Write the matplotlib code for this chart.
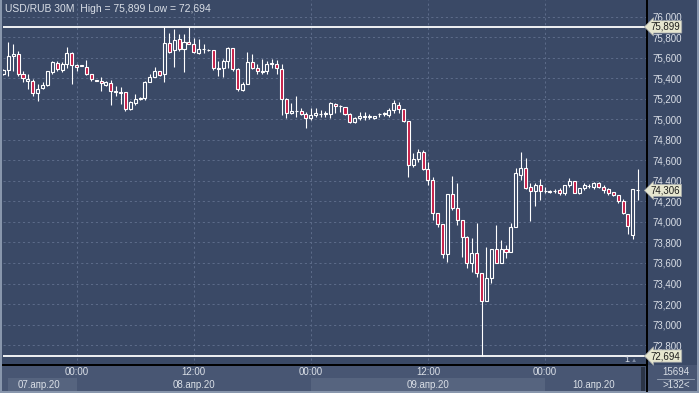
import matplotlib
matplotlib.use('Agg')
import matplotlib.pyplot as plt
import matplotlib.transforms as mtransforms
from matplotlib.patches import Rectangle
from matplotlib.lines import Line2D
from matplotlib.ticker import FuncFormatter
import numpy as np

plt.rcParams['font.family'] = ['Liberation Sans', 'DejaVu Sans']

# ---------------- data (USD/RUB, 30-minute candles) ----------------
opens = [75.44, 75.48, 75.615, 75.632, 75.44, 75.375, 75.375, 75.255, 75.305, 75.335,
         75.455, 75.55, 75.48, 75.535, 75.64, 75.526, 75.525, 75.513, 75.445, 75.381,
         75.368, 75.336, 75.355, 75.278, 75.255, 75.261, 75.10, 75.161, 75.197, 75.207,
         75.365, 75.413, 75.471, 75.439, 75.745, 75.671, 75.778, 75.681, 75.755, 75.736,
         75.649, 75.681, 75.674, 75.671, 75.494, 75.497, 75.568, 75.69, 75.487, 75.287,
         75.342, 75.561, 75.503, 75.455, 75.471, 75.542, 75.542, 75.487, 75.197, 75.057,
         75.075, 75.083, 75.05, 75.008, 75.04, 75.05, 75.052, 75.05, 75.148, 75.13,
         75.122, 75.05, 74.976, 75.008, 75.024, 75.026, 75.008, 75.05, 75.052, 75.041,
         75.09, 75.138, 75.096, 74.982, 74.554, 74.609, 74.684, 74.512, 74.408, 74.09,
         73.976, 73.687, 74.268, 74.132, 74.018, 73.85, 73.596, 73.70, 73.505, 73.233,
         73.45, 73.733, 73.603, 73.733, 73.71, 73.947, 74.457, 74.522, 74.337, 74.304,
         74.36, 74.304, 74.30, 74.30, 74.31, 74.285, 74.36, 74.401, 74.285, 74.327,
         74.35, 74.343, 74.376, 74.343, 74.317, 74.295, 74.262, 74.207, 74.077, 73.872,
         74.31]
highs = [75.49, 75.755, 75.735, 75.665, 75.47, 75.44, 75.39, 75.34, 75.36, 75.47,
         75.57, 75.57, 75.56, 75.70, 75.65, 75.536, 75.53, 75.578, 75.445, 75.385,
         75.413, 75.374, 75.381, 75.326, 75.31, 75.261, 75.18, 75.25, 75.213, 75.368,
         75.44, 75.51, 75.471, 75.899, 75.842, 75.874, 75.826, 75.826, 75.899, 75.794,
         75.778, 75.729, 75.68, 75.671, 75.568, 75.584, 75.703, 75.697, 75.503, 75.358,
         75.658, 75.632, 75.536, 75.584, 75.568, 75.584, 75.574, 75.536, 75.203, 75.155,
         75.226, 75.106, 75.073, 75.106, 75.106, 75.09, 75.075, 75.171, 75.161, 75.135,
         75.122, 75.063, 75.025, 75.073, 75.073, 75.05, 75.035, 75.063, 75.073, 75.106,
         75.187, 75.171, 75.096, 74.982, 74.668, 74.707, 74.70, 74.586, 74.44, 74.09,
         73.976, 74.268, 74.447, 74.375, 74.018, 73.863, 73.84, 73.986, 73.505, 73.752,
         73.733, 73.97, 73.823, 73.775, 73.992, 74.522, 74.684, 74.619, 74.376, 74.376,
         74.414, 74.343, 74.31, 74.317, 74.327, 74.36, 74.424, 74.401, 74.33, 74.382,
         74.37, 74.385, 74.392, 74.36, 74.327, 74.295, 74.262, 74.22, 74.077, 74.317,
         74.512]
lows = [75.43, 75.42, 75.47, 75.42, 75.36, 75.295, 75.23, 75.18, 75.295, 75.325,
        75.44, 75.465, 75.455, 75.50, 75.34, 75.465, 75.515, 75.43, 75.374, 75.368,
        75.27, 75.326, 75.14, 75.23, 75.15, 75.084, 75.09, 75.142, 75.19, 75.19,
        75.358, 75.407, 75.423, 75.358, 75.649, 75.51, 75.665, 75.455, 75.729, 75.649,
        75.639, 75.649, 75.665, 75.478, 75.423, 75.413, 75.503, 75.471, 75.278, 75.271,
        75.342, 75.487, 75.439, 75.439, 75.439, 75.503, 75.439, 75.041, 75.008, 75.05,
        75.018, 75.04, 74.91, 74.992, 75.025, 75.018, 75.025, 75.008, 75.057, 75.073,
        75.041, 74.96, 74.96, 74.992, 74.992, 75.0, 75.0, 75.025, 75.03, 75.025,
        75.063, 75.057, 74.976, 74.44, 74.531, 74.586, 74.505, 74.36, 74.018, 73.953,
        73.645, 73.613, 74.116, 73.97, 73.661, 73.548, 73.515, 73.466, 72.694, 73.233,
        73.402, 73.603, 73.596, 73.645, 73.71, 73.947, 74.408, 74.317, 74.012, 74.155,
        74.213, 74.285, 74.285, 74.278, 74.262, 74.262, 74.343, 74.278, 74.27, 74.31,
        74.33, 74.32, 74.327, 74.278, 74.262, 74.252, 74.181, 74.077, 73.882, 73.83,
        74.213]
closes = [75.48, 75.615, 75.632, 75.44, 75.40, 75.39, 75.255, 75.295, 75.335, 75.465,
          75.56, 75.487, 75.54, 75.64, 75.53, 75.513, 75.52, 75.44, 75.39, 75.372,
          75.349, 75.358, 75.278, 75.261, 75.268, 75.10, 75.165, 75.197, 75.207, 75.365,
          75.413, 75.471, 75.432, 75.745, 75.658, 75.768, 75.681, 75.755, 75.736, 75.658,
          75.681, 75.684, 75.671, 75.497, 75.49, 75.568, 75.697, 75.487, 75.294, 75.342,
          75.561, 75.503, 75.471, 75.471, 75.536, 75.545, 75.503, 75.197, 75.057, 75.08,
          75.08, 75.05, 75.008, 75.04, 75.063, 75.055, 75.056, 75.154, 75.128, 75.128,
          75.05, 74.976, 75.008, 75.031, 75.028, 75.03, 75.031, 75.055, 75.056, 75.09,
          75.154, 75.096, 74.982, 74.554, 74.609, 74.684, 74.512, 74.408, 74.083, 73.976,
          73.687, 74.268, 74.132, 74.018, 73.85, 73.596, 73.70, 73.505, 73.233, 73.45,
          73.733, 73.603, 73.733, 73.71, 73.947, 74.473, 74.522, 74.327, 74.304, 74.36,
          74.304, 74.30, 74.295, 74.304, 74.278, 74.36, 74.401, 74.285, 74.327, 74.36,
          74.352, 74.376, 74.343, 74.31, 74.285, 74.262, 74.207, 74.083, 73.96, 74.317,
          74.306]

time_tick_idx = [15, 39, 63, 87, 111]
time_tick_labels = ['00:00', '12:00', '00:00', '12:00', '00:00']
day_bounds = [-0.6, 15, 63, 111, 131.9]
day_labels = ['07.апр.20', '08.апр.20', '09.апр.20', '10.апр.20']
y_ticks = [72.8, 73.0, 73.2, 73.4, 73.6, 73.8, 74.0, 74.2, 74.4, 74.6, 74.8,
           75.0, 75.2, 75.4, 75.6, 75.8, 76.0]
title_text = 'USD/RUB 30M  High = 75,899 Low = 72,694'
high_val = 75.899
low_val = 72.694
last_val = 74.306
bars_count_text = '15694'
visible_text = '>132<'

# ---------------- style ----------------
BG = '#3a4966'
STRIP = '#485673'
BAND = '#56647f'
FRAME = '#8896ac'
GRID = '#5d6c8a'
TXT = '#d9dee6'
RED = '#c41a44'
TAG = '#e6e6cf'

W, H = 699, 393
fig = plt.figure(figsize=(W / 100, H / 100), dpi=100)
fig.patch.set_facecolor(FRAME)


def fr(x0, y0, x1, y1):
    return [x0 / W, 1 - y1 / H, (x1 - x0) / W, (y1 - y0) / H]


def comma(v):
    return f'{v:.3f}'.replace('.', ',')


# dark panels (plot + right price scale) and bottom strip
fig.add_artist(Rectangle((2 / W, 1 - 365 / H), 695 / W, 365 / H,
                         transform=fig.transFigure, fc=BG, ec='none', zorder=0))
fig.add_artist(Rectangle((2 / W, 1 - 391 / H), 695 / W, 26 / H,
                         transform=fig.transFigure, fc=STRIP, ec='none', zorder=0))

ax = fig.add_axes(fr(3, 0, 647, 365))
ax.set_facecolor(BG)
ax.set_xlim(-0.1, 131.9)
ax.set_ylim(72.6066, 76.1607)

idx = np.arange(len(opens))
o = np.array(opens)
h = np.array(highs)
l = np.array(lows)
c = np.array(closes)
up = c >= o
bottoms = np.minimum(o, c)
heights = np.maximum(np.abs(c - o), 0.004)

ax.vlines(idx, l, h, color='white', lw=0.8, zorder=2)
ax.bar(idx, heights, bottom=bottoms, width=0.62,
       color=[BG if u else RED for u in up], edgecolor='white',
       linewidth=0.8, zorder=3)

ax.axhline(high_val, color='white', lw=1.3, zorder=4)
ax.axhline(low_val, color='white', lw=1.3, zorder=4)

ax.set_yticks(y_ticks)
ax.yaxis.set_major_formatter(FuncFormatter(lambda v, p: comma(v)))
ax.yaxis.tick_right()
ax.tick_params(axis='y', length=0, pad=4, labelsize=7, labelcolor=TXT)
ax.set_xticks(time_tick_idx)
ax.tick_params(axis='x', length=0, labelbottom=False)
ax.grid(True, color=GRID, linestyle=(0, (2.2, 2.8)), lw=0.7)
ax.set_axisbelow(True)
for s in ['top', 'left']:
    ax.spines[s].set_visible(False)
ax.spines['right'].set_color('black')
ax.spines['right'].set_linewidth(1.4)
ax.spines['bottom'].set_color('black')
ax.spines['bottom'].set_linewidth(1.4)

ax.text(2 / 644, 1 - 9 / 365, title_text, transform=ax.transAxes,
        ha='left', va='center', fontsize=7.5, color=TXT, zorder=6)

blend = mtransforms.blended_transform_factory(ax.transAxes, ax.transData)
for v in [high_val, last_val, low_val]:
    ax.text(1.006, v, comma(v), transform=blend, ha='left', va='center',
            fontsize=7, color='#1c1c1c', clip_on=False, zorder=10,
            bbox=dict(boxstyle='larrow,pad=0.12', fc=TAG, ec='#a0a4a8', lw=0.5))

ax.text((627 - 3) / 644, 5 / 365, '1', transform=ax.transAxes, ha='center',
        va='center', fontsize=6.5, color=TXT, zorder=6)
ax.text((634 - 3) / 644, 4 / 365, '▲', transform=ax.transAxes, ha='center',
        va='center', fontsize=4.5, color='#7f8ca4', zorder=6)

# bottom time / date strip
sx = fig.add_axes(fr(3, 365, 647, 391))
sx.set_facecolor(STRIP)
sx.set_xlim(ax.get_xlim())
sx.set_ylim(0, 1)
sx.axis('off')
for k in range(len(day_labels)):
    a, b = day_bounds[k], day_bounds[k + 1]
    if k % 2 == 0:
        sx.axvspan(max(a, 0.9), b, ymin=0, ymax=0.5, color=BAND, lw=0)
    sx.text((a + b) / 2 if k < 3 else (a + 125) / 2 + 3, 0.25, day_labels[k],
            ha='center', va='center', fontsize=7, color=TXT)
for t, lab in zip(time_tick_idx, time_tick_labels):
    sx.text(t, 0.74, lab, ha='center', va='center', fontsize=7, color=TXT)
sx.add_patch(Rectangle((130.6, 0.0), 0.9, 0.92, fc='#2b3446', ec='none'))

# right-bottom info box
fig.add_artist(Line2D([647 / W, 647 / W], [1 - 391 / H, 1 - 365 / H],
                      color='black', lw=1.4, transform=fig.transFigure))
fig.text(676 / W, 1 - 372 / H, bars_count_text, ha='center', va='center',
         fontsize=7, color=TXT)
fig.text(676 / W, 1 - 385 / H, visible_text, ha='center', va='center',
         fontsize=7, color=TXT)
fig.add_artist(Line2D([657 / W, 694 / W], [1 - 378.5 / H, 1 - 378.5 / H],
                      color='#9aa6b8', lw=0.6, transform=fig.transFigure))

fig.savefig('out.png', dpi=100, facecolor=fig.get_facecolor())
